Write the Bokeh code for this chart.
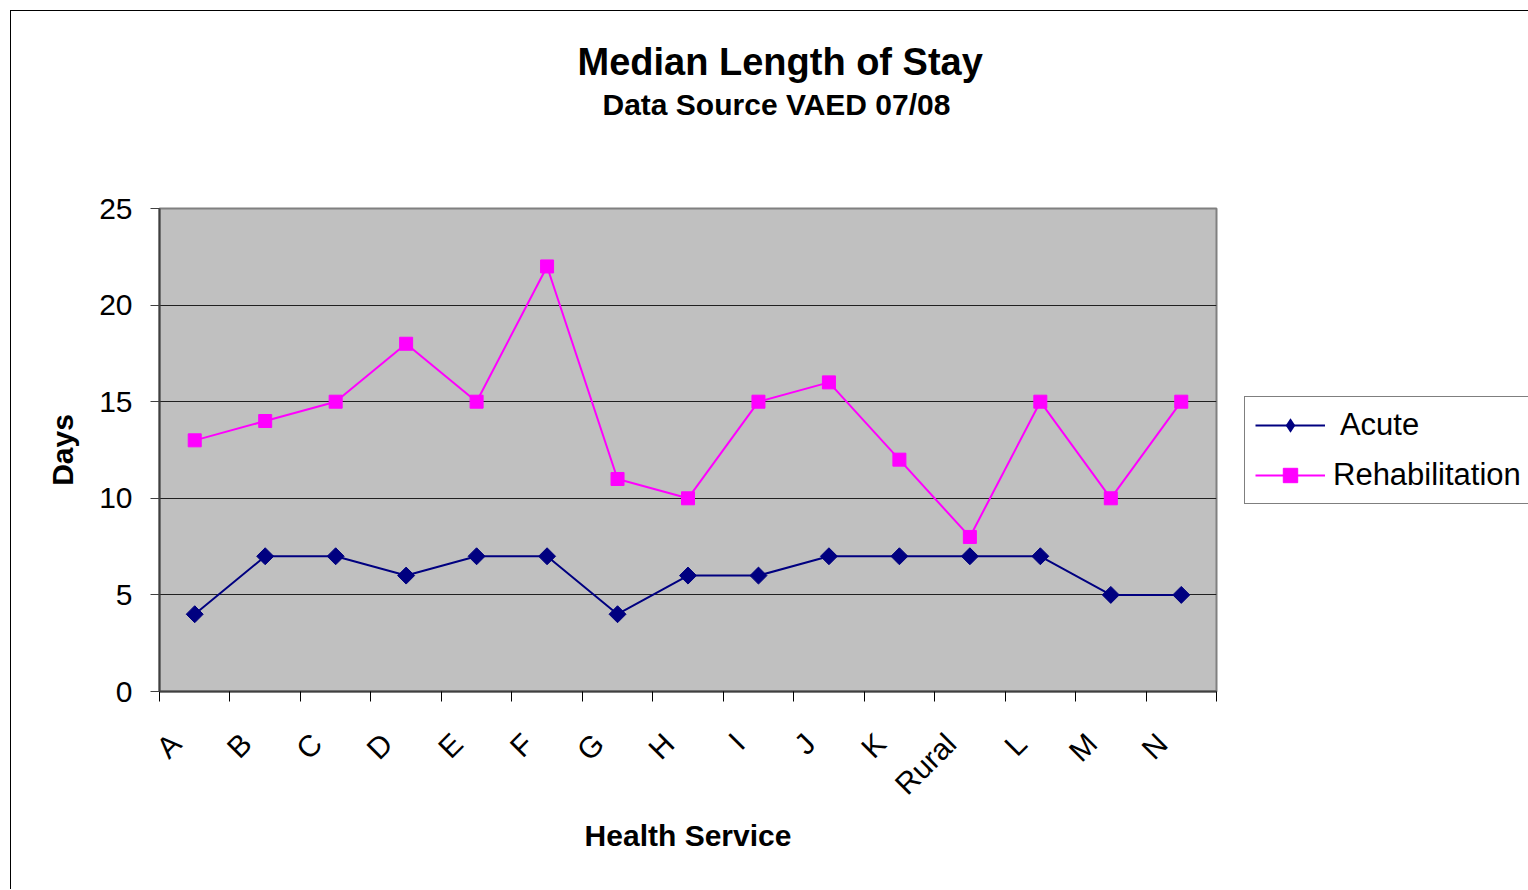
from bokeh.plotting import figure
from bokeh.models import (Legend, LegendItem, FixedTicker, ColumnDataSource, Range1d, Title)
from bokeh.embed import file_html
from bokeh.resources import INLINE
import math

categories = ["A", "B", "C", "D", "E", "F", "G", "H", "I", "J", "K", "Rural", "L", "M", "N"]
acute = [4, 7, 7, 6, 7, 7, 4, 6, 6, 7, 7, 7, 7, 5, 5]
rehabilitation = [13, 14, 15, 18, 15, 22, 11, 10, 15, 16, 12, 8, 15, 10, 15]
y_ticks = [0, 5, 10, 15, 20, 25]

FONT = "Liberation Sans"
OFF = 11  # page offset from css margin + border

xs = [i + 0.5 for i in range(len(categories))]
label_pos = [i + 0.23 for i in range(len(categories))]  # rotated labels sit a little left of centre
src = ColumnDataSource(dict(x=xs, acute=acute, rehab=rehabilitation))

W, H = 1510, 878
FW, FH = 1057, 483
p = figure(width=W, height=H, frame_width=FW, frame_height=FH,
           output_backend="svg", toolbar_location=None,
           x_range=Range1d(0, len(categories)), y_range=Range1d(0, 25),
           min_border_left=159 - OFF, min_border_right=W - (159 - OFF) - FW,
           min_border_top=208 - OFF, min_border_bottom=H - (208 - OFF) - FH,
           styles={"margin-left": "10px", "margin-top": "10px",
                   "border-left": "1px solid black", "border-top": "1px solid black"})
p.background_fill_color = "#C0C0C0"
p.border_fill_color = "white"
p.outline_line_color = "#808080"
p.outline_line_width = 2

# axes
p.xaxis.ticker = FixedTicker(ticks=label_pos, minor_ticks=list(range(len(categories) + 1)))
p.xaxis.major_label_overrides = {x: c for x, c in zip(label_pos, categories)}
p.xaxis.major_tick_line_color = None
p.xaxis.minor_tick_line_color = "black"
p.xaxis.minor_tick_in = 0
p.xaxis.minor_tick_out = 10
p.xaxis.major_tick_out = 0
p.xaxis.major_label_orientation = math.pi / 4
p.xaxis.major_label_text_font = FONT
p.xaxis.major_label_text_font_size = "30px"
p.xaxis.major_label_text_color = "black"
p.xaxis.major_label_standoff = 37
p.xaxis.axis_label = "Health Service"
p.xaxis.axis_label_text_font = FONT
p.xaxis.axis_label_text_font_style = "bold"
p.xaxis.axis_label_text_font_size = "30px"
p.xaxis.axis_label_text_color = "black"
p.xaxis.axis_label_standoff = 3
p.xaxis.axis_line_color = "#404040"
p.xaxis.axis_line_width = 2

p.yaxis.ticker = FixedTicker(ticks=y_ticks)
p.yaxis.minor_tick_line_color = None
p.yaxis.major_tick_in = 0
p.yaxis.major_tick_out = 9
p.yaxis.major_tick_line_color = "#404040"
p.yaxis.major_label_text_font = FONT
p.yaxis.major_label_text_font_size = "30px"
p.yaxis.major_label_text_color = "black"
p.yaxis.major_label_standoff = 18
p.yaxis.axis_label = "Days"
p.yaxis.axis_label_text_font = FONT
p.yaxis.axis_label_text_font_style = "bold"
p.yaxis.axis_label_text_font_size = "30px"
p.yaxis.axis_label_text_color = "black"
p.yaxis.axis_label_standoff = 17
p.yaxis.axis_line_color = "#404040"
p.yaxis.axis_line_width = 2

p.xgrid.grid_line_color = None
p.ygrid.grid_line_color = "#202020"
p.ygrid.grid_line_width = 1

# series
l1 = p.line("x", "acute", source=src, line_color="#000080", line_width=2)
d1 = p.scatter("x", "acute", source=src, marker="diamond", size=15,
               fill_color="#000080", line_color=None)
m1 = p.scatter("x", "acute", source=src, marker="square", angle=math.pi / 4, size=12,
               fill_color="#000080", line_color="#000080")
l2 = p.line("x", "rehab", source=src, line_color="#FF00FF", line_width=2)
m2 = p.scatter("x", "rehab", source=src, marker="square", size=13,
               fill_color="#FF00FF", line_color="#FF00FF")

legend = Legend(items=[LegendItem(label=" Acute", renderers=[l1, d1]),
                       LegendItem(label="Rehabilitation", renderers=[l2, m2])],
                location="center_left")
legend.label_text_font = FONT
legend.label_text_font_size = "31px"
legend.label_text_color = "black"
legend.glyph_width = 70
legend.glyph_height = 36
legend.spacing = 14
legend.padding = 10
legend.margin = 28
legend.label_standoff = 8
legend.border_line_color = "black"
legend.border_line_width = 1
legend.background_fill_color = "white"
legend.background_fill_alpha = 1
p.add_layout(legend, "right")

# titles (above list: index 0 is nearest the frame; p.title is outermost)
p.add_layout(Title(text=".", text_font_size="2px", text_color="white", standoff=85), "above")
p.add_layout(Title(text="Data Source VAED 07/08", align="left", offset=602 - 159, text_font=FONT,
                   text_font_style="bold", text_font_size="30px", text_color="black",
                   standoff=0), "above")
p.title.text = "Median Length of Stay"
p.title.align = "left"
p.title.offset = 577 - 159
p.title.text_font = FONT
p.title.text_font_style = "bold"
p.title.text_font_size = "38px"
p.title.text_color = "black"
p.title.standoff = 6

open("out.html", "w").write(file_html(p, INLINE))
